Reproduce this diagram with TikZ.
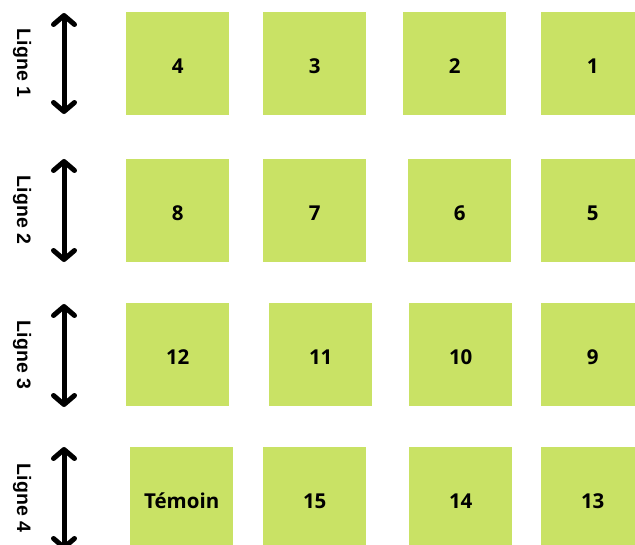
\documentclass[tikz,border=0pt]{standalone}
\usepackage{fontspec}
\setmainfont{Open Sans}
\newfontfamily\labelfont{Liberation Sans}
\usetikzlibrary{arrows.meta}
\definecolor{boxgreen}{HTML}{C9E265}
\begin{document}
\begin{tikzpicture}[x=1pt,y=-1pt,
  plotbox/.style={fill=boxgreen, minimum width=103, minimum height=103, inner sep=0pt, anchor=north west, text height=20pt, text depth=0pt, font=\bfseries\fontsize{20.5}{24}\selectfont},
  linelabel/.style={rotate=-90, inner sep=0pt, font=\labelfont\bfseries\fontsize{19.5}{23}\selectfont},
  dblarrow/.style={line width=5pt, {Straight Barb[length=9pt,width=21pt,round]}-{Straight Barb[length=9pt,width=21pt,round]}}
]
\clip (0,0) rectangle (635,544);
\fill[white] (0,0) rectangle (635,544);
% row 1
\node[plotbox] (p4) at (126,12) {4};
\node[plotbox] (p3) at (263,12) {3};
\node[plotbox] (p2) at (403,12) {2};
\node[plotbox] (p1) at (541,12) {1};
% row 2
\node[plotbox] (p8) at (126,159) {8};
\node[plotbox] (p7) at (263,159) {7};
\node[plotbox] (p6) at (408,159) {6};
\node[plotbox] (p5) at (541,159) {5};
% row 3
\node[plotbox] (p12) at (126,303) {12};
\node[plotbox] (p11) at (269,303) {11};
\node[plotbox] (p10) at (409,303) {10};
\node[plotbox] (p9) at (541,303) {9};
% row 4
\node[plotbox] (pt) at (130,447) {Témoin};
\node[plotbox] (p15) at (263,447) {15};
\node[plotbox] (p14) at (409,447) {14};
\node[plotbox] (p13) at (541,447) {13};
% labels
\node[linelabel] (l1) at (22,63) {Ligne 1};
\node[linelabel] (l2) at (22,210) {Ligne 2};
\node[linelabel] (l3) at (22,355) {Ligne 3};
\node[linelabel] (l4) at (22,498) {Ligne 4};
% arrows
\coordinate (a1t) at (64,13);  \coordinate (a1b) at (64,114);
\coordinate (a2t) at (64,159); \coordinate (a2b) at (64,262);
\coordinate (a3t) at (64,304); \coordinate (a3b) at (64,407);
\coordinate (a4t) at (64,447); \coordinate (a4b) at (64,550);
\draw[dblarrow] (a1t) -- (a1b);
\draw[dblarrow] (a2t) -- (a2b);
\draw[dblarrow] (a3t) -- (a3b);
\draw[dblarrow] (a4t) -- (a4b);
\end{tikzpicture}
\end{document}
